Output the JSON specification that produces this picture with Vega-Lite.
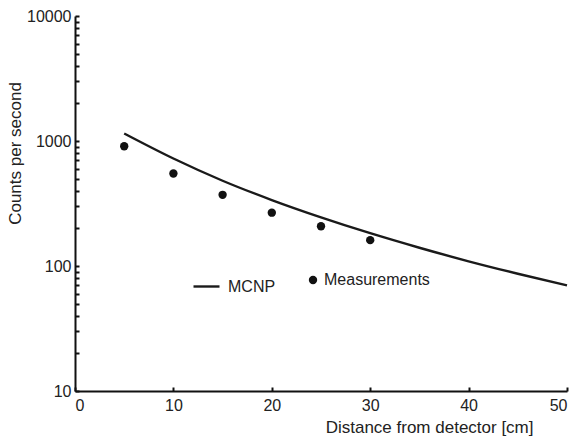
{
  "$schema": "https://vega.github.io/schema/vega-lite/v6.json",
  "width": 492,
  "height": 375,
  "autosize": "none",
  "padding": {"left": 75, "top": 16, "right": 12, "bottom": 52},
  "background": "white",
  "config": {
    "view": {"stroke": null},
    "font": "Liberation Sans",
    "axis": {"grid": false, "domainColor": "#111", "domainWidth": 2, "tickColor": "#111", "tickWidth": 2, "labelFont": "Liberation Sans", "titleFont": "Liberation Sans", "labelFontSize": 16, "titleFontSize": 17, "labelColor": "#222", "titleColor": "#222", "titleFontWeight": "normal"}
  },
  "datasets": {
    "mcnp": [
      {"d": 5, "c": 1148}, {"d": 10, "c": 724}, {"d": 15, "c": 481}, {"d": 20, "c": 337},
      {"d": 25, "c": 245}, {"d": 30, "c": 183}, {"d": 35, "c": 140}, {"d": 40, "c": 109},
      {"d": 45, "c": 86.7}, {"d": 50, "c": 70}
    ],
    "meas": [
      {"d": 5, "c": 908}, {"d": 10, "c": 550}, {"d": 15, "c": 371},
      {"d": 20, "c": 267}, {"d": 25, "c": 208}, {"d": 30, "c": 161}
    ]
  },
  "layer": [
    {
      "data": {"name": "mcnp"},
      "mark": {"type": "line", "color": "#1a1a1a", "strokeWidth": 2.4, "interpolate": "monotone"},
      "encoding": {
        "x": {"field": "d", "type": "quantitative", "scale": {"domain": [0, 50], "nice": false},
          "axis": {"title": "Distance from detector [cm]", "titleX": 458, "titleY": 41, "titleAlign": "right", "titleBaseline": "alphabetic", "values": [0, 10, 20, 30, 40, 50], "tickSize": -4, "labelPadding": 10}},
        "y": {"field": "c", "type": "quantitative", "scale": {"type": "log", "domain": [10, 10000], "nice": false},
          "axis": {"title": "Counts per second", "titleX": -55, "titleY": 137, "titleAlign": "center", "titleBaseline": "alphabetic",
            "values": [10,20,30,40,50,60,70,80,90,100,200,300,400,500,600,700,800,900,1000,2000,3000,4000,5000,6000,7000,8000,9000,10000],
            "labelExpr": "indexof(['10','100','1000','10000'], datum.label) >= 0 ? datum.label : ''",
            "format": "d", "tickSize": -4, "labelPadding": 8}},
        "color": {"datum": "MCNP", "scale": {"range": ["#1a1a1a"]},
          "legend": {"title": null, "orient": "none", "legendX": 117, "legendY": 256, "symbolType": "stroke", "symbolSize": 676, "symbolStrokeWidth": 2.4, "labelFontSize": 16, "labelColor": "#222", "labelOffset": 7}}
      }
    },
    {
      "data": {"name": "meas"},
      "mark": {"type": "point", "filled": true, "color": "#111", "opacity": 1, "size": 70},
      "encoding": {
        "x": {"field": "d", "type": "quantitative"},
        "y": {"field": "c", "type": "quantitative"},
        "shape": {"datum": "Measurements", "scale": {"range": ["circle"]},
          "legend": {"title": null, "orient": "none", "legendX": 230, "legendY": 256, "symbolSize": 70, "symbolFillColor": "#111", "symbolStrokeWidth": 0, "labelFontSize": 16, "labelColor": "#222", "labelOffset": 3}}
      }
    }
  ]
}
